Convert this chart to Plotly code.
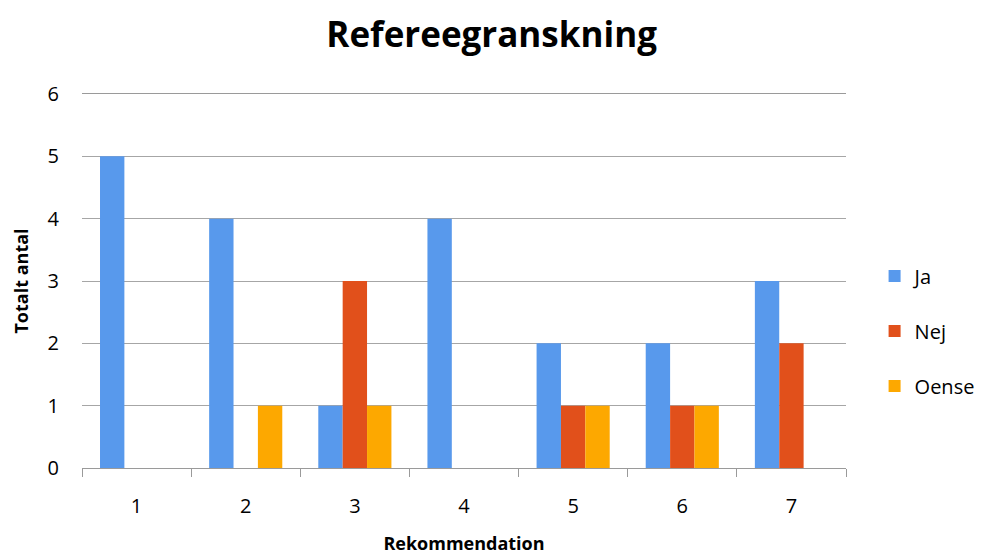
import plotly.graph_objects as go

categories = ["1", "2", "3", "4", "5", "6", "7"]
ja = [5, 4, 1, 4, 2, 2, 3]
nej = [0, 0, 3, 0, 1, 1, 2]
oense = [0, 1, 1, 0, 1, 1, 0]
series_names = ["Ja", "Nej", "Oense"]
colors = ["#5899EC", "#E1501B", "#FDA800"]

FONT = "Open Sans"

fig = go.Figure()
for name, vals, col in zip(series_names, [ja, nej, oense], colors):
    fig.add_trace(go.Bar(x=categories, y=vals, name=name, marker_color=col,
                         marker_line_width=0, legendgroup=name))

fig.update_layout(
    width=987, height=554,
    barmode="group", bargap=0.33, bargroupgap=0,
    plot_bgcolor="white", paper_bgcolor="white",
    margin=dict(l=74, r=149, t=86, b=94),
    font=dict(family=FONT, color="black"),
    title=dict(text="<b>Refereegranskning</b>", x=0.490, xanchor="center",
               y=0.951, yanchor="middle", font=dict(size=35, family=FONT)),
    legend=dict(xref="container", yref="container", x=0.878, xanchor="left",
                y=0.417, yanchor="middle",
                font=dict(size=20, family=FONT), tracegroupgap=26,
                traceorder="grouped", itemwidth=30),
    xaxis=dict(type="category", tickson="boundaries", ticks="outside",
               ticklen=8, tickcolor="#9a9a9a", showline=True, linecolor="#9a9a9a",
               linewidth=1, mirror=True, showgrid=False, tickfont=dict(size=20),
               ticklabelstandoff=20, automargin=False,
               title=dict(text="<b>Rekommendation</b>", font=dict(size=18), standoff=19)),
    yaxis=dict(range=[0, 6], dtick=1, showgrid=True, gridcolor="#a6a6a6",
               gridwidth=1, zeroline=False, showline=False, ticks="",
               tickfont=dict(size=20), ticklabelstandoff=22, automargin=False,
               title=dict(text="<b>Totalt antal</b>", font=dict(size=18), standoff=14)),
)

fig.write_html("out.html")
